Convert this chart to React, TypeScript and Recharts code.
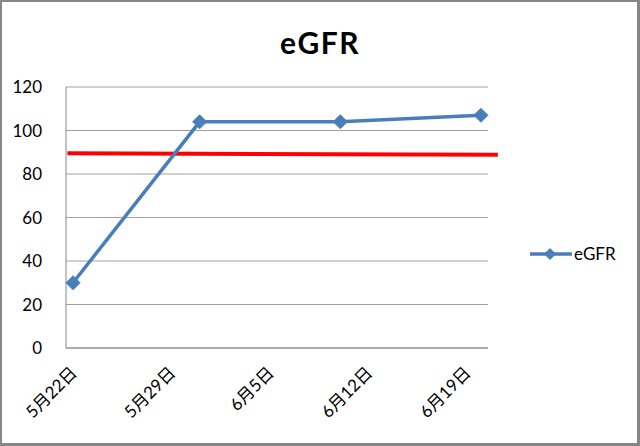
import React from 'react';
import { LineChart, Line, XAxis, YAxis, CartesianGrid, ReferenceLine } from 'recharts';

// days counted from 5月22日
const pointDays = [0, 9, 19, 29];
const egfrValues = [30, 104, 104, 107];
const tickDays = [0, 7, 14, 21, 28];
const tickLabels = ['5月22日', '5月29日', '6月5日', '6月12日', '6月19日'];
const yTicks = [0, 20, 40, 60, 80, 100, 120];
const refLineDays = [0.1, 30.7];
const refLineValues = [89.5, 88.9];
const seriesName = 'eGFR';

const data = pointDays.map((d, i) => ({ x: d + 0.5, egfr: egfrValues[i] }));
const xTicks = tickDays.map((d) => d + 0.5);
const labelFor = (v: number) => tickLabels[xTicks.indexOf(v)] ?? '';

const FONT = "Lato, 'Noto Sans CJK JP', sans-serif";
const BLUE = '#4A7EBB';

const Diamond = (props: any) => {
  const { cx, cy } = props;
  if (cx == null || cy == null) return null;
  const r = 7;
  return (
    <polygon
      points={`${cx},${cy - r} ${cx + r},${cy} ${cx},${cy + r} ${cx - r},${cy}`}
      fill={BLUE}
      stroke={BLUE}
    />
  );
};

const XTick = (props: any) => {
  const { x, y, payload } = props;
  return (
    <g transform={`translate(${x + 5},${y + 18})`}>
      <text
        x={0}
        y={0}
        transform="rotate(-45)"
        textAnchor="end"
        fontFamily={FONT}
        fontSize={17}
        fill="#000"
      >
        {labelFor(payload.value)}
      </text>
    </g>
  );
};

export default function App() {
  return (
    <div
      style={{
        position: 'absolute',
        left: 0,
        top: 0,
        width: 640,
        height: 446,
        boxSizing: 'border-box',
        borderTop: '2px solid #868686',
        borderLeft: '2px solid #868686',
        borderRight: '3px solid #868686',
        borderBottom: '3px solid #868686',
        background: '#fff',
      }}
    >
      <div
        style={{
          position: 'absolute',
          left: -2,
          top: 22,
          width: 640,
          textAlign: 'center',
          fontFamily: FONT,
          fontWeight: 'bold',
          fontSize: 30,
          letterSpacing: 1.5,
          color: '#000',
        }}
      >
        eGFR
      </div>
      <div style={{ position: 'absolute', left: -2, top: -2 }}>
        <LineChart
          width={640}
          height={446}
          data={data}
          margin={{ top: 87, right: 152, bottom: 0, left: 0 }}
        >
          <CartesianGrid vertical={false} stroke="#A0A0A0" strokeWidth={1} />
          <XAxis
            dataKey="x"
            type="number"
            domain={[0, 30]}
            ticks={xTicks}
            interval={0}
            tick={<XTick />}
            tickLine={false}
            axisLine={{ stroke: '#868686', strokeWidth: 1 }}
            height={98}
          />
          <YAxis
            type="number"
            domain={[0, 120]}
            ticks={yTicks}
            width={66}
            tickLine={false}
            axisLine={{ stroke: '#868686', strokeWidth: 1 }}
            tick={{ fontFamily: FONT, fontSize: 17, fill: '#000' }}
            tickMargin={18}
          />
          <ReferenceLine
            segment={[
              { x: refLineDays[0], y: refLineValues[0] },
              { x: refLineDays[1], y: refLineValues[1] },
            ]}
            stroke="#FF0000"
            strokeWidth={4}
            ifOverflow="visible"
          />
          <Line
            dataKey="egfr"
            name={seriesName}
            stroke={BLUE}
            strokeWidth={3.5}
            dot={<Diamond />}
            activeDot={false}
            isAnimationActive={false}
          />
        </LineChart>
      </div>
      <svg
        width={90}
        height={24}
        style={{ position: 'absolute', left: 527, top: 241 }}
      >
        <line x1={1} y1={11} x2={43} y2={11} stroke={BLUE} strokeWidth={3.5} />
        <polygon points="21,5 27,11 21,17 15,11" fill={BLUE} />
        <text x={45} y={17} fontFamily={FONT} fontSize={17} fill="#000">
          {seriesName}
        </text>
      </svg>
    </div>
  );
}
